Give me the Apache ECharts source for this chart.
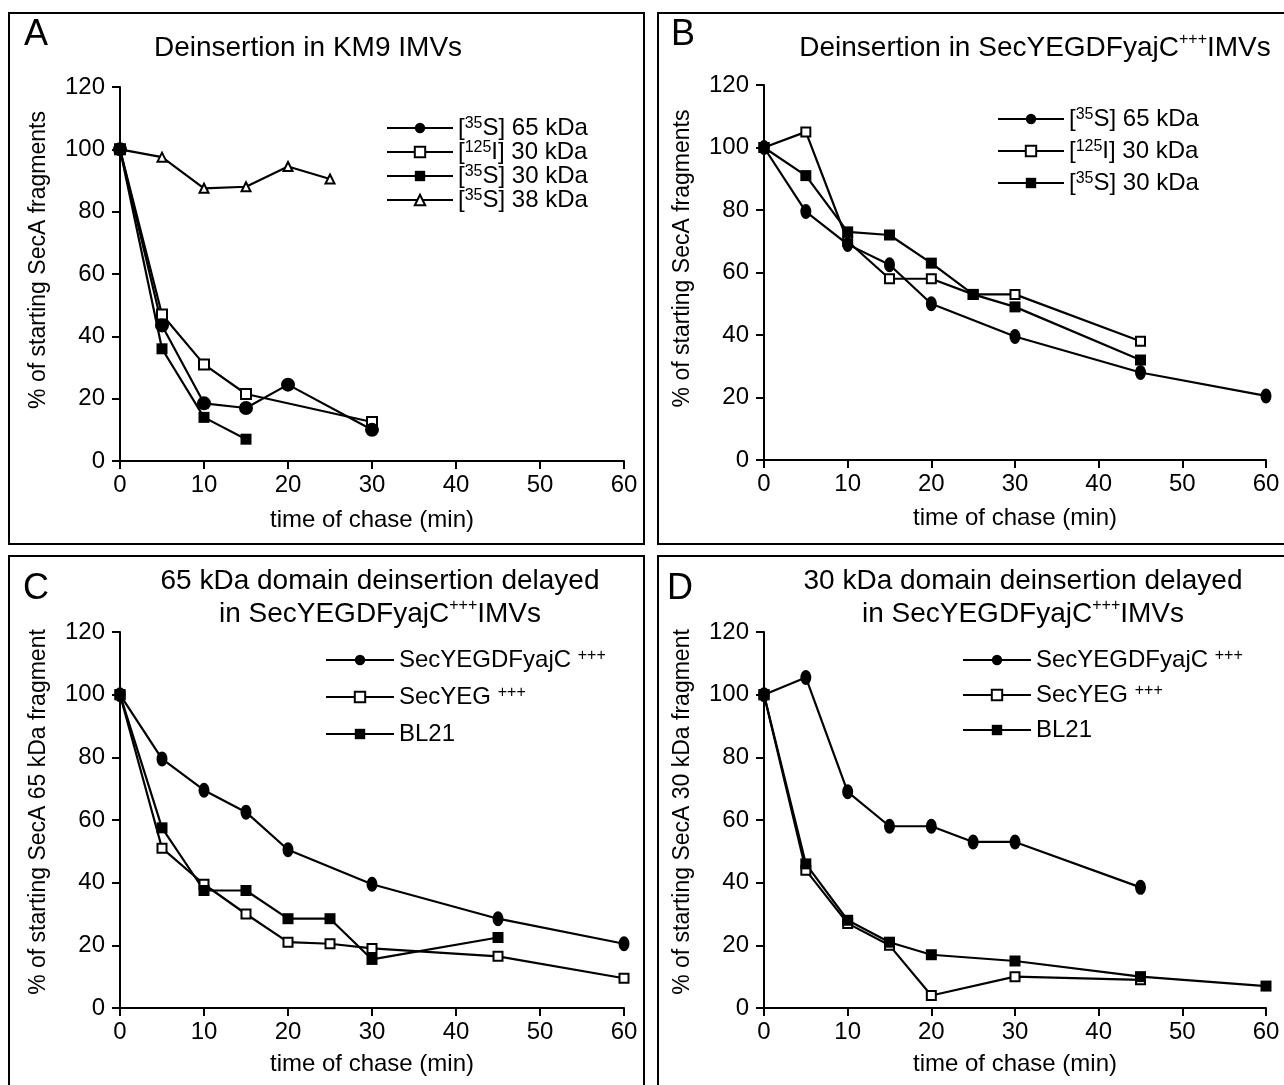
<!DOCTYPE html>
<html><head><meta charset="utf-8">
<script src="https://cdn.jsdelivr.net/npm/echarts@6/dist/echarts.min.js"></script>
<style>html,body{margin:0;padding:0;background:#fff}#c{width:1284px;height:1085px}</style>
</head><body><div id="c"></div>
<script>
// ---- tick labels ----
const xTicks = [0, 10, 20, 30, 40, 50, 60];
const yTicks = [0, 20, 40, 60, 80, 100, 120];

// ---- Panel A: Deinsertion in KM9 IMVs ----
const aS65T = [0, 5, 10, 15, 20, 30];
const aS65V = [100, 43.5, 18.5, 17, 24.5, 10];
const aI125T = [0, 5, 10, 15, 30];
const aI125V = [100, 47, 31, 21.5, 12.5];
const aS30T = [0, 5, 10, 15];
const aS30V = [100, 36, 14, 7];
const aS38T = [0, 5, 10, 15, 20, 25];
const aS38V = [100, 97.5, 87.5, 88, 94.5, 90.5];

// ---- Panel B: Deinsertion in SecYEGDFyajC+++ IMVs ----
const bS65T = [0, 5, 10, 15, 20, 30, 45, 60];
const bS65V = [100, 79.5, 69, 62.5, 50, 39.5, 28, 20.5];
const bI125T = [0, 5, 10, 15, 20, 25, 30, 45];
const bI125V = [100, 105, 70, 58, 58, 53, 53, 38];
const bS30T = [0, 5, 10, 15, 20, 25, 30, 45];
const bS30V = [100, 91, 73, 72, 63, 53, 49, 32];

// ---- Panel C: 65 kDa domain ----
const cYajT = [0, 5, 10, 15, 20, 30, 45, 60];
const cYajV = [100, 79.5, 69.5, 62.5, 50.5, 39.5, 28.5, 20.5];
const cYegT = [0, 5, 10, 15, 20, 25, 30, 45, 60];
const cYegV = [100, 51, 39.5, 30, 21, 20.5, 19, 16.5, 9.5];
const cBlT = [0, 5, 10, 15, 20, 25, 30, 45];
const cBlV = [100, 57.5, 37.5, 37.5, 28.5, 28.5, 15.5, 22.5];

// ---- Panel D: 30 kDa domain ----
const dYajT = [0, 5, 10, 15, 20, 25, 30, 45];
const dYajV = [100, 105.5, 69, 58, 58, 53, 53, 38.5];
const dYegT = [0, 5, 10, 15, 20, 30, 45];
const dYegV = [100, 44, 27, 20, 4, 10, 9];
const dBlT = [0, 5, 10, 15, 20, 30, 45, 60];
const dBlV = [100, 46, 28, 21, 17, 15, 10, 7];

// ---- labels ----
const panelLetters = ['A', 'B', 'C', 'D'];
const titles = [
  'Deinsertion in KM9 IMVs',
  'Deinsertion in SecYEGDFyajC{s|+++}IMVs',
  '65 kDa domain deinsertion delayed\nin SecYEGDFyajC{s|+++}IMVs',
  '30 kDa domain deinsertion delayed\nin SecYEGDFyajC{s|+++}IMVs'
];
const xName = 'time of chase (min)';
const yNames = ['% of starting SecA fragments', '% of starting SecA fragments',
  '% of starting SecA 65 kDa fragment', '% of starting SecA 30 kDa fragment'];
const legendText = {
  's65': '[{s|35}S] 65 kDa', 'i125': '[{s|125}I] 30 kDa', 's30': '[{s|35}S] 30 kDa', 's38': '[{s|35}S] 38 kDa',
  'yaj': 'SecYEGDFyajC {s|+++}', 'yeg': 'SecYEG {s|+++}', 'bl': 'BL21'
};

const FF = '"Liberation Sans", Arial, Helvetica, sans-serif';
const zip = (t, v) => t.map((x, i) => [x, v[i]]);

const grids = [
  {left: 120, top: 87, width: 504, height: 374},
  {left: 764, top: 85, width: 502, height: 375},
  {left: 120, top: 632, width: 504, height: 376},
  {left: 764, top: 632, width: 502, height: 376}
];
const xNameGaps = [47, 46, 44, 44];
const yNamePad = [28, 28, 16, 16];

function xAx(i) {
  return {
    type: 'value', gridIndex: i, min: xTicks[0], max: xTicks[xTicks.length - 1], interval: 10,
    name: xName, nameLocation: 'middle', nameGap: xNameGaps[i],
    nameTextStyle: {fontSize: 24, color: '#000', fontFamily: FF},
    axisLine: {show: true, lineStyle: {color: '#000', width: 2}},
    axisTick: {show: true, length: 8, lineStyle: {color: '#000', width: 2}},
    axisLabel: {fontSize: 24, color: '#000', fontFamily: FF, margin: 12},
    splitLine: {show: false}
  };
}
function yAx(i) {
  return {
    type: 'value', gridIndex: i, min: yTicks[0], max: yTicks[yTicks.length - 1], interval: 20,
    name: yNames[i], nameLocation: 'middle', nameGap: 70, nameRotate: 90,
    nameTextStyle: {fontSize: 23, color: '#000', fontFamily: FF, padding: [0, 0, 0, yNamePad[i]]},
    axisLine: {show: true, lineStyle: {color: '#000', width: 2}},
    axisTick: {show: true, length: 8, lineStyle: {color: '#000', width: 2}},
    axisLabel: {fontSize: 24, color: '#000', fontFamily: FF, margin: 15},
    splitLine: {show: false}
  };
}

function ser(name, gi, t, v, symbol, size, empty) {
  const s = {
    name: name, type: 'line', xAxisIndex: gi, yAxisIndex: gi, data: zip(t, v),
    symbol: symbol, symbolSize: size, showSymbol: true,
    lineStyle: {color: '#000', width: 2.2}, color: '#000',
    itemStyle: {color: '#000'}, emphasis: {disabled: true}
  };
  if (empty) s.itemStyle = {color: '#000', borderColor: '#000', borderWidth: 1.8};
  return s;
}

const series = [
  ser('A|s38', 0, aS38T, aS38V, 'emptyTriangle', 9, true),
  ser('A|i125', 0, aI125T, aI125V, 'emptyRect', 10, true),
  ser('A|s30', 0, aS30T, aS30V, 'rect', 11),
  ser('A|s65', 0, aS65T, aS65V, 'circle', 14),
  ser('B|i125', 1, bI125T, bI125V, 'emptyRect', 9, true),
  ser('B|s30', 1, bS30T, bS30V, 'rect', 11),
  ser('B|s65', 1, bS65T, bS65V, 'circle', [11, 15]),
  ser('C|yeg', 2, cYegT, cYegV, 'emptyRect', 9, true),
  ser('C|bl', 2, cBlT, cBlV, 'rect', 11),
  ser('C|yaj', 2, cYajT, cYajV, 'circle', [11, 15]),
  ser('D|yeg', 3, dYegT, dYegV, 'emptyRect', 9, true),
  ser('D|bl', 3, dBlT, dBlV, 'rect', 11),
  ser('D|yaj', 3, dYajT, dYajV, 'circle', [11, 15])
];

const legendRich = {s: {fontSize: 16, fontFamily: FF, color: '#000', verticalAlign: 'top', lineHeight: 16}};
function leg(data, left, top, gap, w) {
  return {
    data: data, orient: 'vertical', left: left, top: top, itemGap: gap,
    itemWidth: w, itemHeight: 13, padding: 0, selectedMode: false,
    formatter: n => legendText[n.split('|')[1]],
    textStyle: {fontSize: 24, color: '#000', fontFamily: FF, rich: legendRich}
  };
}
const legends = [
  leg(['A|s65', 'A|i125', 'A|s30', 'A|s38'], 386, 116, 0, 66),
  leg(['B|s65', 'B|i125', 'B|s30'], 997, 107, 8, 66),
  leg(['C|yaj', 'C|yeg', 'C|bl'], 325, 648, 13, 68),
  leg(['D|yaj', 'D|yeg', 'D|bl'], 962, 648, 11, 68)
];

const titleRich = {s: {fontSize: 16, fontFamily: FF, color: '#000', verticalAlign: 'top', lineHeight: 16}};
const titleCfg = [
  {text: titles[0], left: 308, top: 32},
  {text: titles[1], left: 1035, top: 32},
  {text: titles[2], left: 380, top: 565},
  {text: titles[3], left: 1023, top: 565}
].map(t => ({
  text: t.text, left: t.left, top: t.top, textAlign: 'center', padding: 0,
  textStyle: {fontSize: 28, fontWeight: 'normal', color: '#000', fontFamily: FF, lineHeight: 33, rich: titleRich}
}));
const letterPos = [[24, 17], [671, 17], [23, 571], [667, 571]];
letterPos.forEach((p, i) => titleCfg.push({
  text: panelLetters[i], left: p[0], top: p[1], padding: 0,
  textStyle: {fontSize: 36, fontWeight: 'normal', color: '#000', fontFamily: FF}
}));

const boxes = [[9, 13, 635, 531], [658, 13, 640, 531], [9, 556, 635, 545], [658, 556, 640, 545]];

const chart = echarts.init(document.getElementById('c'), null, {renderer: 'canvas'});
chart.setOption({
  animation: false,
  backgroundColor: '#fff',
  title: titleCfg,
  legend: legends,
  grid: grids,
  xAxis: [0, 1, 2, 3].map(xAx),
  yAxis: [0, 1, 2, 3].map(yAx),
  series: series,
  graphic: boxes.map(b => ({
    type: 'rect', shape: {x: b[0], y: b[1], width: b[2], height: b[3]},
    style: {fill: 'none', stroke: '#000', lineWidth: 2}, silent: true
  }))
});
</script></body></html>
